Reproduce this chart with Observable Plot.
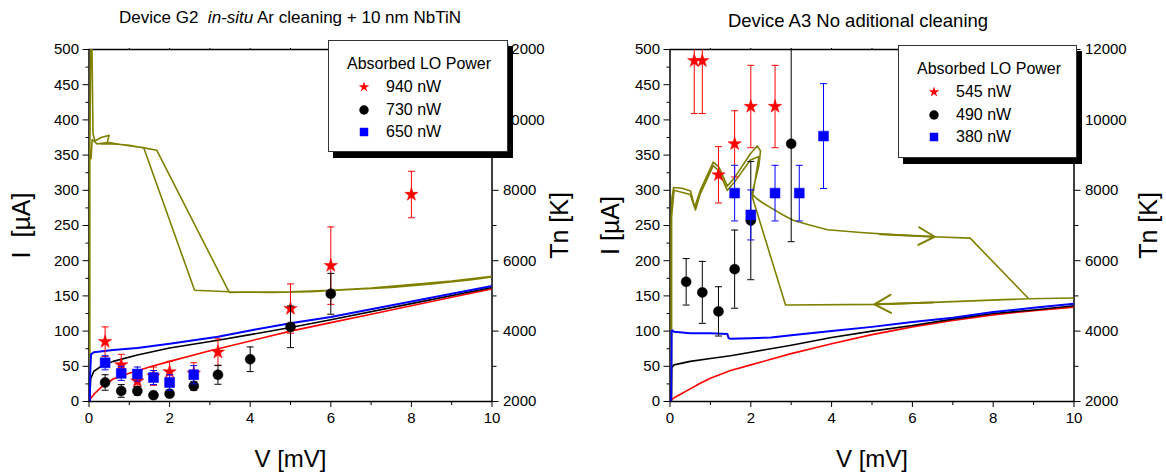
<!DOCTYPE html>
<html>
<head>
<meta charset="utf-8">
<script src="https://cdn.jsdelivr.net/npm/d3@7"></script>
<script src="https://cdn.jsdelivr.net/npm/@observablehq/plot@0.6"></script>
<style>
  body { margin: 0; background: #fff; font-family: "Liberation Sans", Arial, sans-serif; }
  #page { position: relative; width: 1166px; height: 474px; overflow: hidden; background: #fff; color: #000; }
  .panel { position: absolute; top: 30px; width: 583px; height: 444px; }
  .title { position: absolute; white-space: pre; transform: translate(-50%, -50%); }
  .legend { position: absolute; background: #fff; border: 1px solid #333; box-shadow: 5px 6px 0 #000; box-sizing: border-box; z-index: 5; }
  .legend .hdr { position: absolute; left: 18px; font-size: 16px; transform: translateY(-50%); white-space: nowrap; }
  .legend .row { position: absolute; left: 0; font-size: 16px; transform: translateY(-50%); white-space: nowrap; }
  .legend svg { position: absolute; left: 27px; top: -8px; }
  .legend .lab { position: absolute; left: 57px; top: -9px; }
</style>
</head>
<body>
<div id="page"></div>
<script>
// ---------------- DATA ----------------
const OLIVE = "#808000";
const seriesColors = ["#ff0000", "#000000", "#0000ff"];
const seriesSymbols = ["star", "circle", "square"];

// Device G2: Tn points (Tn [K], error ± [K])
const g2Names = ["940 nW", "730 nW", "650 nW"];
const g2V940 = [0.4, 0.8, 1.2, 1.6, 2.0, 2.6, 3.2, 5.0, 6.0, 8.0];
const g2Tn940 = [3700, 3040, 2580, 2720, 2840, 2800, 3400, 4640, 5860, 7880];
const g2Err940 = [420, 300, 300, 260, 300, 300, 380, 700, 1100, 660];
const g2V730 = [0.4, 0.8, 1.2, 1.6, 2.0, 2.6, 3.2, 4.0, 5.0, 6.0];
const g2Tn730 = [2540, 2300, 2300, 2180, 2220, 2440, 2760, 3200, 4120, 5060];
const g2Err730 = [220, 180, 120, 100, 100, 120, 270, 350, 590, 580];
const g2V650 = [0.4, 0.8, 1.2, 1.6, 2.0, 2.6];
const g2Tn650 = [3100, 2800, 2780, 2680, 2540, 2760];
const g2Err650 = [200, 200, 200, 200, 220, 260];

// Device G2: pumped I-V curves (V [mV], I [uA])
const g2IvV940 = [0, 0.05, 0.15, 0.3, 0.6, 1, 1.5, 2, 3, 4, 5, 6, 7, 8, 9, 10];
const g2IvI940 = [0, 5, 12, 20, 32, 40, 49, 57, 72, 86, 100, 112, 124, 136, 148, 160];
const g2IvV730 = [0.02, 0.04, 0.12, 0.3, 0.6, 1.2, 2, 3.2, 4, 5, 6, 8, 10];
const g2IvI730 = [0, 32, 43, 50, 57, 66, 76, 87, 95, 105, 116, 139, 162];
const g2IvV650 = [0.02, 0.03, 0.05, 0.12, 0.6, 1.2, 2, 3.2, 4, 5, 6, 8, 10];
const g2IvI650 = [0, 40, 67, 70, 73, 76, 82, 92, 101, 111, 120, 142, 164];

// Device G2: olive curve (sweep up then down)
const g2OliveV = [0.02, 0.02, 0.045, 0.07, 0.1, 0.15, 0.3, 0.5, 0.45, 0.3, 0.6, 1.0, 1.36, 2.62, 3.48, 4.5, 5.5, 6.5, 7.5, 8.5, 9.5, 10,
                  10, 9, 8, 7, 6, 5, 3.48, 1.68, 1.3, 0.9, 0.5, 0.2, 0.08, 0.05];
const g2OliveI = [0, 350, 520, 520, 380, 370, 375, 378, 368, 366, 366, 364, 360, 158, 156, 155, 156, 159, 162, 167, 173, 177,
                  178, 171, 166, 161, 158, 156, 155, 357, 361, 364, 368, 366, 372, 345];

// Device A3: Tn points
const a3Names = ["545 nW", "490 nW", "380 nW"];
const a3V545 = [0.6, 0.8, 1.2, 1.6, 2.0, 2.6];
const a3Tn545 = [11680, 11680, 8440, 9320, 10380, 10380];
const a3Err545 = [1500, 1500, 800, 940, 1170, 1170];
const a3V490 = [0.4, 0.8, 1.2, 1.6, 2.0, 3.0];
const a3Tn490 = [5400, 5100, 4560, 5760, 7140, 9320];
const a3Err490 = [660, 880, 700, 1110, 1680, 2780];
const a3V380 = [1.6, 2.0, 2.6, 3.2, 3.8];
const a3Tn380 = [7920, 7300, 7920, 7920, 9540];
const a3Err380 = [790, 710, 790, 790, 1490];

// Device A3: pumped I-V curves
const a3IvV545 = [0, 0.05, 0.12, 0.25, 0.5, 0.75, 1, 1.5, 2, 3, 4, 5, 6, 7, 8, 9, 10];
const a3IvI545 = [0, 3, 6, 10, 18, 26, 33, 44, 52, 68, 82, 95, 106, 115, 123, 129, 134];
const a3IvV490 = [0.03, 0.04, 0.1, 0.5, 1, 1.5, 2, 3, 4, 5, 6, 7, 8, 9, 10];
const a3IvI490 = [0, 48, 52, 57, 61, 65, 70, 80, 91, 100, 108, 117, 125, 130, 136];
const a3IvV380 = [0.03, 0.04, 0.06, 0.1, 0.5, 1, 1.42, 1.45, 1.5, 2, 2.5, 3, 4, 5, 6, 7, 8, 9, 10];
const a3IvI380 = [0, 100, 101, 99, 97, 97, 96, 90, 89, 90, 91, 94, 100, 106, 113, 119, 127, 133, 139];

// Device A3: olive curve (sweep up then down)
const a3OliveV = [0.03, 0.03, 0.05, 0.09, 0.3, 0.51, 0.61, 0.75, 1.07, 1.21, 1.42, 1.6, 1.99, 2.16, 2.24, 2.2, 2.05, 2.03, 2.15, 2.3, 2.5, 2.8, 3.06, 3.5, 3.9, 4.72, 5.5, 6.5, 7.43, 8.88, 10,
                  10, 8.88, 5.2, 2.86, 2.04, 2.2, 1.99, 1.6, 1.42, 1.2, 1.07, 0.75, 0.63, 0.5, 0.1, 0.04, 0.04];
const a3OliveI = [0, 260, 290, 304, 303, 299, 276, 300, 340, 333, 306, 318, 352, 363, 356, 335, 300, 295, 288, 282, 275, 265, 257, 250, 244, 240, 237, 234, 232, 146, 147,
                  147, 146, 138, 137, 290, 348, 343, 312, 300, 328, 335, 295, 272, 294, 300, 262, 0];
// Direction arrows on the A3 olive curve (tail -> tip)
const a3ArrowV1 = [5.2, 6.5];
const a3ArrowI1 = [237.5, 140.7];
const a3ArrowV2 = [6.55, 5.06];
const a3ArrowI2 = [234, 138];

// Axes
const iTicks = [0, 50, 100, 150, 200, 250, 300, 350, 400, 450, 500];
const vTicks = [0, 2, 4, 6, 8, 10];
const tnAtZero = 2000, tnPerUA = 20; // right axis: 2000 K .. 12000 K

// ---------------- HELPERS ----------------
const toI = tn => (tn - tnAtZero) / tnPerUA;
const capSymbol = { draw(ctx, size) { const w = Math.sqrt(size / Math.PI); ctx.moveTo(-w, 0); ctx.lineTo(w, 0); } };

function pts(v, tn, err) {
  return v.map((x, k) => ({ x, y: toI(tn[k]), lo: toI(tn[k] - err[k]), hi: toI(tn[k] + err[k]) }));
}
function curve(v, i) { return v.map((x, k) => ({ x, y: i[k] })); }

function pointMarks(rows, color, symbol, r) {
  return [
    Plot.ruleX(rows, { x: "x", y1: "lo", y2: "hi", stroke: color, strokeWidth: 1, clip: true }),
    Plot.dot(rows, { x: "x", y: "lo", symbol: capSymbol, r: 3.5, stroke: color, fill: "none", strokeWidth: 1, clip: true }),
    Plot.dot(rows, { x: "x", y: "hi", symbol: capSymbol, r: 3.5, stroke: color, fill: "none", strokeWidth: 1, clip: true }),
    Plot.dot(rows, { x: "x", y: "y", symbol, r, fill: color, stroke: color, strokeWidth: 0.5, clip: true })
  ];
}

function panel(cfg) {
  const m = [
    Plot.frame({ stroke: "#000", strokeWidth: 1.5 }),
    Plot.axisY({ anchor: "left", ticks: iTicks, tickSize: 6, tickPadding: 4, label: null }),
    Plot.axisY({ anchor: "left", ticks: iTicks.slice(0, -1).map(d => d + 25), tickSize: 3, tickFormat: () => "", label: null }),
    Plot.axisY({ anchor: "right", ticks: iTicks.filter((d, k) => k % 2 === 0), tickSize: 6, tickPadding: 5,
                 tickFormat: d => String(tnAtZero + tnPerUA * d), label: null }),
    Plot.axisY({ anchor: "right", ticks: iTicks.filter((d, k) => k % 2 === 1), tickSize: 4, tickFormat: () => "", label: null }),
    Plot.axisX({ anchor: "bottom", ticks: vTicks, tickSize: 6, tickPadding: 5, label: null }),
    Plot.axisX({ anchor: "bottom", ticks: vTicks.slice(0, -1).map(d => d + 1), tickSize: 4, tickFormat: () => "", label: null }),
    Plot.axisX({ anchor: "top", ticks: d3.range(1, 10), tickSize: 2, tickFormat: () => "", label: null }),
    Plot.text(["V [mV]"], { frameAnchor: "bottom", dy: 58, fontSize: 24, textAnchor: "middle", lineAnchor: "middle" }),
    Plot.text([cfg.iLabel], { frameAnchor: "left", dx: cfg.iDx, rotate: -90, fontSize: 25, textAnchor: "middle", lineAnchor: "middle" }),
    Plot.text(["Tn [K]"], { frameAnchor: "right", dx: cfg.tDx, rotate: -90, fontSize: 25, textAnchor: "middle", lineAnchor: "middle" }),
    Plot.line(cfg.olive, { x: "x", y: "y", stroke: OLIVE, strokeWidth: 1.6, clip: true }),
    ...cfg.iv.map((c, k) => Plot.line(c, { x: "x", y: "y", stroke: seriesColors[k], strokeWidth: k === 2 ? 2 : 1.6, clip: true })),
  ];
  if (cfg.arrows) {
    m.push(Plot.arrow(cfg.arrows, { x1: "x1", y1: "y1", x2: "x2", y2: "y2", stroke: OLIVE, strokeWidth: 2, headLength: 14, headAngle: 58 }));
  }
  cfg.points.forEach((p, k) => m.push(...pointMarks(p, seriesColors[k], seriesSymbols[k], [4.2, 5, 5.6][k])));
  return Plot.plot({
    width: 583, height: 444,
    marginTop: 19, marginBottom: 73, marginLeft: cfg.ml, marginRight: cfg.mr,
    style: { fontFamily: "'Liberation Sans', Arial, sans-serif", fontSize: "15px", color: "#000", background: "transparent", overflow: "visible" },
    x: { domain: [0, 10] },
    y: { domain: [0, 500] },
    marks: m
  });
}

function legend(names, left, top, w, h) {
  const div = document.createElement("div");
  div.className = "legend";
  Object.assign(div.style, { left: left + "px", top: top + "px", width: w + "px", height: h + "px" });
  const hdr = document.createElement("div");
  hdr.className = "hdr"; hdr.style.top = "23px"; hdr.textContent = "Absorbed LO Power";
  div.appendChild(hdr);
  const syms = [d3.symbolStar, d3.symbolCircle, d3.symbolSquare];
  const sizes = [34, 70, 72];
  names.forEach((n, k) => {
    const row = document.createElement("div");
    row.className = "row"; row.style.top = (46 + k * 22.5) + "px";
    const path = d3.symbol().type(syms[k]).size(sizes[k])();
    row.innerHTML = `<svg width="16" height="16" viewBox="-8 -8 16 16"><path d="${path}" fill="${seriesColors[k]}"/></svg><span class="lab">${n}</span>`;
    div.appendChild(row);
  });
  return div;
}

// ---------------- BUILD ----------------
const page = document.getElementById("page");

const t1 = document.createElement("div");
t1.className = "title"; t1.style.left = "290px"; t1.style.top = "18px"; t1.style.fontSize = "17px";
t1.innerHTML = "Device G2&nbsp; <i>in-situ</i> Ar cleaning + 10 nm NbTiN";
page.appendChild(t1);
const t2 = document.createElement("div");
t2.className = "title"; t2.style.left = "858px"; t2.style.top = "21px"; t2.style.fontSize = "18.5px";
t2.textContent = "Device A3 No aditional cleaning";
page.appendChild(t2);

const p1 = document.createElement("div"); p1.className = "panel"; p1.style.left = "0px";
p1.appendChild(panel({
  ml: 88.5, mr: 91.5, iLabel: "I  [µA]", iDx: -67, tDx: 68,
  olive: curve(g2OliveV, g2OliveI),
  iv: [curve(g2IvV940, g2IvI940), curve(g2IvV730, g2IvI730), curve(g2IvV650, g2IvI650)],
  points: [pts(g2V940, g2Tn940, g2Err940), pts(g2V730, g2Tn730, g2Err730), pts(g2V650, g2Tn650, g2Err650)]
}));
page.appendChild(p1);

const p2 = document.createElement("div"); p2.className = "panel"; p2.style.left = "583px";
p2.appendChild(panel({
  ml: 86.5, mr: 92.5, iLabel: "I [µA]", iDx: -59, tDx: 75,
  olive: curve(a3OliveV, a3OliveI),
  iv: [curve(a3IvV545, a3IvI545), curve(a3IvV490, a3IvI490), curve(a3IvV380, a3IvI380)],
  points: [pts(a3V545, a3Tn545, a3Err545), pts(a3V490, a3Tn490, a3Err490), pts(a3V380, a3Tn380, a3Err380)],
  arrows: a3ArrowV1.map((x1, k) => ({ x1, y1: a3ArrowI1[k], x2: a3ArrowV2[k], y2: a3ArrowI2[k] }))
}));
page.appendChild(p2);

page.appendChild(legend(g2Names, 328, 40, 180, 112));
page.appendChild(legend(a3Names, 898, 45, 179, 113));
</script>
</body>
</html>
